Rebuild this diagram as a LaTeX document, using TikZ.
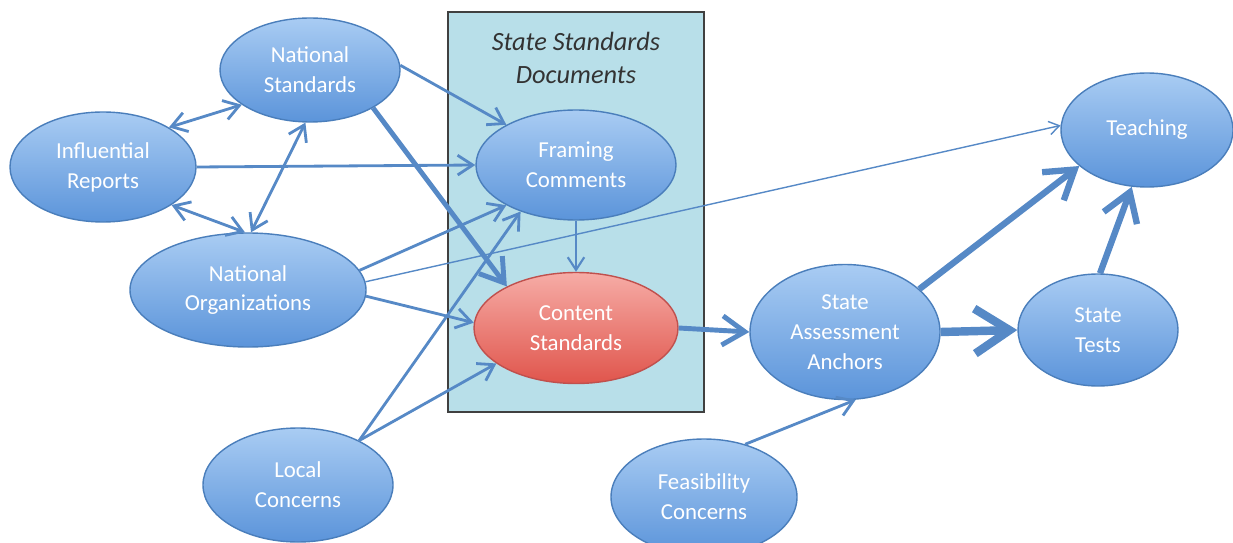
\documentclass[tikz,border=0pt]{standalone}
\usepackage{fontspec}
\setmainfont{Carlito}
\usetikzlibrary{shapes.geometric,arrows.meta}
\definecolor{elltop}{HTML}{A9CCF3}
\definecolor{ellbot}{HTML}{5B94DA}
\definecolor{ellline}{HTML}{4A7EBB}
\definecolor{redtop}{HTML}{F6ACA6}
\definecolor{redbot}{HTML}{E0554C}
\definecolor{redline}{HTML}{C0504D}
\definecolor{boxfill}{HTML}{B8DFE9}
\definecolor{linkcol}{HTML}{5689C6}
\tikzstyle{concept} = [ellipse, draw=ellline, line width=0.8pt, top color=elltop, bottom color=ellbot, inner sep=0pt, text=white, align=center, font={\fontsize{13}{17}\selectfont}]
\tikzstyle{core} = [concept, draw=redline, top color=redtop, bottom color=redbot]
\tikzstyle{frame} = [draw=black!75, line width=1.2pt, fill=boxfill, minimum width=5.12cm, minimum height=8cm]
\tikzstyle{link} = [draw=linkcol, line width=1.6pt]
\tikzstyle{hair} = [link, line width=0.8pt]
\tikzstyle{mid} = [link, line width=1.2pt]
\tikzstyle{strong} = [link, line width=2.8pt]
\tikzstyle{stronger} = [link, line width=3.6pt]
\tikzstyle{heavy} = [link, line width=4.8pt]

\begin{document}
\begin{tikzpicture}[>={Straight Barb[length=3pt 3.5,width=4pt 4.5]}]
  \useasboundingbox (0,0) rectangle (24.66,-10.86);
  \node[frame](ssd) at (11.52,-4.24){};
  \node[text=black!80, align=center, font={\fontsize{15}{19}\selectfont\itshape}](title) at (11.52,-1.16){State Standards\\Documents};
  \node[concept, minimum width=3.6cm, minimum height=2.08cm](ns) at (6.2,-1.4){National\\Standards};
  \node[concept, minimum width=3.72cm, minimum height=2.2cm](ir) at (2.06,-3.34){Influential\\Reports};
  \node[concept, minimum width=4.72cm, minimum height=2.28cm](no) at (4.96,-5.8){National\\Organizations};
  \node[concept, minimum width=3.8cm, minimum height=2.28cm](lc) at (5.96,-9.7){Local\\Concerns};
  \node[concept, minimum width=4cm, minimum height=2.2cm](fc) at (11.52,-3.3){Framing\\Comments};
  \node[core, minimum width=4.08cm, minimum height=2.22cm](cs) at (11.52,-6.56){Content\\Standards};
  \node[concept, minimum width=3.8cm, minimum height=2.7cm](saa) at (16.9,-6.64){State\\Assessment\\Anchors};
  \node[concept, minimum width=3.2cm, minimum height=2.24cm](st) at (21.96,-6.6){State\\Tests};
  \node[concept, minimum width=3.44cm, minimum height=2.28cm](teach) at (22.94,-2.6){Teaching};
  \node[concept, minimum width=3.72cm, minimum height=2.32cm](feas) at (14.08,-9.94){Feasibility\\Concerns};
  \draw[link,<->](ir.31)--(ns.207);
  \draw[link,<->](ir.331)--(no.93);
  \draw[link,<->](ns.265)--(no.87);
  \draw[link,->](ir.east)--(fc.west);
  \draw[link,->](ns.3)--(fc.150);
  \draw[strong,->](ns.329)--(cs.149);
  \draw[link,->](no.10)--(fc.210);
  \draw[link,->](no.-3)--(cs.177);
  \draw[hair,->](no.4)--(teach.177);
  \draw[link,->](lc.36)--(fc.220);
  \draw[link,->](lc.36)--(cs.204);
  \draw[mid,->](fc.south)--(cs.north);
  \draw[strong,->](cs.east)--(saa.west);
  \draw[heavy,->](saa.east)--(st.west);
  \draw[stronger,->](saa.30)--(teach.208);
  \draw[stronger,->](st.88)--(teach.255);
  \draw[link,->](feas.52)--(saa.279);
\end{tikzpicture}
\end{document}
